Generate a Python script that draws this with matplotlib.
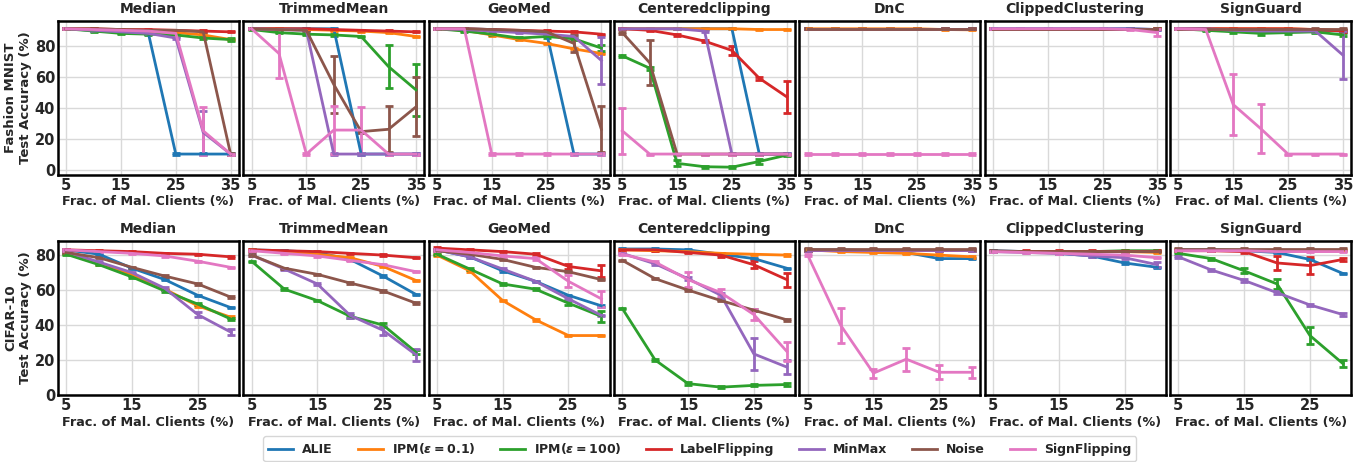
import matplotlib

matplotlib.use("Agg")
import matplotlib.pyplot as plt
from matplotlib.lines import Line2D

ATTACKS = ["ALIE", "IPM0.1", "IPM100", "LabelFlipping", "MinMax", "Noise", "SignFlipping"]
LEGEND_LABELS = ["ALIE", r"IPM($\varepsilon = 0.1$)", r"IPM($\varepsilon = 100$)",
                 "LabelFlipping", "MinMax", "Noise", "SignFlipping"]
COLORS = ["#1f77b4", "#ff7f0e", "#2ca02c", "#d62728", "#9467bd", "#8c564b", "#e377c2"]
AGGREGATORS = ["Median", "TrimmedMean", "GeoMed", "Centeredclipping", "DnC",
               "ClippedClustering", "SignGuard"]

FM_X = [5, 10, 15, 20, 25, 30, 35]
CF_X = [5, 10, 15, 20, 25, 30]
SMALL_ERR = 0.4   # tiny std shown as caps where no visible bar

# ---------------- Fashion MNIST (means) ----------------
FM_MEDIAN = {
    "ALIE": [91, 90, 89, 88, 10, 10, 10],
    "IPM0.1": [91, 90.5, 90, 89, 88.5, 87, 84],
    "IPM100": [91, 89.5, 88, 87.5, 87, 85, 84],
    "LabelFlipping": [91, 91, 90.5, 90.5, 90, 89.5, 89],
    "MinMax": [91, 90, 89, 88, 85, 24, 10],
    "Noise": [91, 91, 90.5, 90, 90, 89, 10],
    "SignFlipping": [91, 90.5, 90, 89.5, 88, 25, 10],
}
FM_TRIMMEDMEAN = {
    "ALIE": [91, 91, 91, 91, 10, 10, 10],
    "IPM0.1": [91, 91, 90.5, 90, 89.5, 88.5, 86],
    "IPM100": [90.5, 88.5, 87.5, 87, 86, 66.5, 51.5],
    "LabelFlipping": [91, 91, 91, 90.5, 90, 89.5, 89],
    "MinMax": [91, 90.5, 90, 10, 10, 10, 10],
    "Noise": [91, 90.5, 90, 55, 24.5, 26, 40.5],
    "SignFlipping": [91, 75, 10, 25.5, 25.5, 10, 10],
}
FM_GEOMED = {
    "ALIE": [91, 91, 90.5, 89.5, 88.5, 10, 10],
    "IPM0.1": [91, 90, 87, 84, 81.5, 78, 75],
    "IPM100": [91, 89.5, 87.5, 85, 86, 84.5, 78.5],
    "LabelFlipping": [91, 91, 90.5, 90, 89.5, 89, 87.5],
    "MinMax": [91, 90.5, 89.5, 88.5, 87.5, 86, 70.5],
    "Noise": [91, 91, 90.5, 90, 89, 81.5, 26],
    "SignFlipping": [91, 91, 10, 10, 10, 10, 10],
}
FM_CENTEREDCLIPPING = {
    "ALIE": [91, 91, 91, 91, 91, 10, 10],
    "IPM0.1": [91, 91, 91, 91, 91, 90.5, 90.5],
    "IPM100": [73.5, 65.5, 4, 1.8, 1.5, 5.2, 9.3],
    "LabelFlipping": [91, 90, 87, 83, 77, 59, 47],
    "MinMax": [91, 91, 91, 89.5, 10, 10, 10],
    "Noise": [88.5, 69, 10, 10, 10, 10, 10],
    "SignFlipping": [25, 10, 10, 10, 10, 10, 10],
}
FM_DNC = {
    "ALIE": [91, 91, 91, 91, 91, 91, 91],
    "IPM0.1": [91, 91, 91, 91, 91, 90.5, 90.3],
    "IPM100": [91, 91, 91, 91, 91, 91, 91],
    "LabelFlipping": [91, 91, 91, 91, 91, 91, 91],
    "MinMax": [91, 91, 91, 91, 91, 91, 91],
    "Noise": [91, 91, 91, 91, 91, 91, 91],
    "SignFlipping": [10, 10, 10, 10, 10, 10, 10],
}
FM_CLIPPEDCLUSTERING = {
    "ALIE": [91, 91, 91, 91, 91, 91, 90.5],
    "IPM0.1": [91, 91, 91, 91, 91, 91, 91],
    "IPM100": [91, 91, 91, 91, 91, 91, 91],
    "LabelFlipping": [91, 91, 91, 91, 91, 91, 91],
    "MinMax": [91, 91, 91, 91, 91, 91, 90.5],
    "Noise": [91, 91, 91, 91, 91, 91, 91],
    "SignFlipping": [91, 91, 91, 91, 91, 90.5, 88.5],
}
FM_SIGNGUARD = {
    "ALIE": [91, 91, 90.5, 90, 90, 90, 89.5],
    "IPM0.1": [91, 91, 91, 91, 91, 90.5, 90],
    "IPM100": [91, 90, 89, 88, 88.5, 89, 87],
    "LabelFlipping": [91, 91, 91, 91, 91, 90.5, 89.5],
    "MinMax": [91, 91, 90, 89.5, 89.5, 89.5, 74],
    "Noise": [91, 91, 91, 91, 91, 91, 91],
    "SignFlipping": [91, 90.5, 42, 26.5, 10, 10, 10],
}

# ---------------- Fashion MNIST (visible std) ----------------
FM_MEDIAN_ERR = {
    "MinMax": [0.4, 0.4, 0.4, 0.4, 0.6, 14, 0.3],
    "SignFlipping": [0.4, 0.4, 0.4, 0.4, 1.0, 15.5, 0.3],
    "IPM100": [0.4, 0.4, 0.4, 0.4, 0.4, 0.6, 1.2],
}
FM_TRIMMEDMEAN_ERR = {
    "IPM100": [0.4, 0.4, 0.4, 0.4, 0.4, 14, 17],
    "Noise": [0.4, 0.4, 0.4, 18.5, 0.6, 15, 19],
    "SignFlipping": [0.4, 16, 0.4, 15.5, 15, 0.3, 0.3],
}
FM_GEOMED_ERR = {
    "IPM100": [0.4, 0.4, 0.4, 0.6, 1.0, 0.6, 2.0],
    "MinMax": [0.4, 0.4, 0.4, 0.4, 0.6, 1.0, 15],
    "Noise": [0.4, 0.4, 0.4, 0.4, 0.6, 5.5, 15],
}
FM_CENTEREDCLIPPING_ERR = {
    "IPM100": [0.5, 1.0, 2.0, 0.6, 0.6, 1.5, 0.5],
    "LabelFlipping": [0.4, 0.4, 0.5, 0.6, 3.0, 1.0, 10.5],
    "Noise": [0.6, 14.5, 0.3, 0.3, 0.3, 0.3, 0.3],
    "SignFlipping": [15, 0.3, 0.3, 0.3, 0.3, 0.3, 0.3],
}
FM_DNC_ERR = {}
FM_CLIPPEDCLUSTERING_ERR = {
    "SignFlipping": [0.3, 0.3, 0.3, 0.3, 0.3, 0.5, 2.5],
}
FM_SIGNGUARD_ERR = {
    "IPM100": [0.4, 0.5, 0.6, 0.8, 0.6, 0.6, 1.0],
    "MinMax": [0.4, 0.4, 0.4, 0.4, 0.4, 0.6, 15.5],
    "SignFlipping": [0.4, 0.4, 20, 16, 0.3, 0.3, 0.3],
}

# ---------------- CIFAR-10 (means) ----------------
CF_MEDIAN = {
    "ALIE": [83, 80.5, 72.5, 66, 57, 50],
    "IPM0.1": [81, 75, 69, 60.5, 51, 44.5],
    "IPM100": [80.5, 74.5, 67.5, 59.5, 52, 43.5],
    "LabelFlipping": [83, 82.5, 82, 81, 80.5, 79],
    "MinMax": [82, 76, 70, 61, 46, 36],
    "Noise": [81.5, 78.5, 73, 68, 63.5, 56],
    "SignFlipping": [83, 82, 81, 79.5, 76.5, 73],
}
CF_TRIMMEDMEAN = {
    "ALIE": [83, 82.5, 81.5, 77.5, 68, 57.5],
    "IPM0.1": [83, 82, 80.5, 78.5, 73.5, 65.5],
    "IPM100": [76.5, 60.5, 54, 45, 40, 24.5],
    "LabelFlipping": [83, 82.5, 82, 81, 80, 78.5],
    "MinMax": [80, 72, 63.5, 45.5, 37, 23],
    "Noise": [80, 72.5, 69, 64, 59.5, 52.5],
    "SignFlipping": [82.5, 81, 79.5, 77, 74.5, 70.5],
}
CF_GEOMED = {
    "ALIE": [83, 79, 71, 65, 57, 51],
    "IPM0.1": [80, 71, 54, 43, 34, 34],
    "IPM100": [80.5, 72, 63.5, 60.5, 52.5, 45],
    "LabelFlipping": [84, 83, 82, 80.5, 73.5, 71],
    "MinMax": [83, 79, 72, 65, 55, 45.5],
    "Noise": [82.5, 80.5, 77.5, 73, 70.5, 66],
    "SignFlipping": [83, 81.5, 79.5, 78, 65, 55],
}
CF_CENTEREDCLIPPING = {
    "ALIE": [83.5, 83.5, 83, 80.5, 78, 72.5],
    "IPM0.1": [83, 82.5, 82, 81, 80.5, 80],
    "IPM100": [49.5, 20, 6.5, 4.5, 5.5, 6],
    "LabelFlipping": [83, 83, 81.5, 80, 74.5, 66],
    "MinMax": [81, 75, 66.5, 57, 23.5, 16],
    "Noise": [77, 66.5, 60, 54, 48.5, 43],
    "SignFlipping": [80.5, 76, 66, 58.5, 46, 25],
}
CF_DNC = {
    "ALIE": [83, 83, 82.5, 81.5, 78, 78],
    "IPM0.1": [83, 82, 81.5, 81, 80, 79],
    "IPM100": [83, 83, 83, 83, 83, 83],
    "LabelFlipping": [83, 83, 83, 83, 83, 83],
    "MinMax": [83, 83, 83, 83, 83, 83],
    "Noise": [83.5, 83.5, 83.5, 83.5, 83.5, 83.5],
    "SignFlipping": [80, 40, 12.5, 20.5, 13, 13],
}
CF_CLIPPEDCLUSTERING = {
    "ALIE": [82.5, 82, 81, 79.5, 75.5, 73],
    "IPM0.1": [82, 82, 82, 82, 82, 81.5],
    "IPM100": [82, 82, 82, 82, 82.5, 82.5],
    "LabelFlipping": [82.5, 82.5, 82.5, 82.5, 82.5, 82.5],
    "MinMax": [82, 81.5, 81, 79.5, 78.5, 74.5],
    "Noise": [82.5, 82, 82, 82, 82, 82],
    "SignFlipping": [82, 81.5, 81, 80.5, 80, 78.5],
}
CF_SIGNGUARD = {
    "ALIE": [83, 83, 82.5, 81.5, 77.5, 69.5],
    "IPM0.1": [83, 83, 83, 83, 83, 83],
    "IPM100": [81, 78, 71, 63.5, 34, 18],
    "LabelFlipping": [82.5, 82.5, 82, 75.5, 74, 77.5],
    "MinMax": [79, 71.5, 65.5, 58.5, 51.5, 46],
    "Noise": [83.5, 83.5, 83.5, 83.5, 83.5, 83.5],
    "SignFlipping": [82.5, 82.5, 82.5, 82, 82, 82],
}

# ---------------- CIFAR-10 (visible std) ----------------
CF_MEDIAN_ERR = {
    "MinMax": [0.4, 0.5, 0.6, 0.8, 1.5, 1.8],
}
CF_TRIMMEDMEAN_ERR = {
    "MinMax": [0.4, 0.5, 0.8, 1.5, 2.5, 3.5],
    "IPM100": [0.4, 0.5, 0.5, 0.8, 1.2, 1.2],
}
CF_GEOMED_ERR = {
    "LabelFlipping": [0.4, 0.4, 0.4, 0.6, 1.5, 3.5],
    "SignFlipping": [0.4, 0.4, 0.6, 0.8, 3.5, 4.5],
    "IPM100": [0.4, 0.4, 0.5, 0.6, 1.2, 3.0],
}
CF_CENTEREDCLIPPING_ERR = {
    "LabelFlipping": [0.4, 0.4, 0.5, 1.0, 2.0, 4.0],
    "MinMax": [0.4, 0.6, 1.0, 1.5, 9.0, 4.0],
    "SignFlipping": [0.5, 0.8, 4.5, 2.0, 3.0, 5.5],
    "IPM100": [0.5, 0.6, 0.8, 0.4, 0.6, 0.8],
}
CF_DNC_ERR = {
    "SignFlipping": [0.6, 10, 2.5, 6.5, 4.0, 3.0],
}
CF_CLIPPEDCLUSTERING_ERR = {
    "MinMax": [0.3, 0.3, 0.4, 0.6, 0.8, 1.5],
}
CF_SIGNGUARD_ERR = {
    "IPM100": [0.5, 0.6, 1.5, 3.0, 5.0, 2.0],
    "LabelFlipping": [0.4, 0.4, 0.6, 4.0, 5.0, 1.0],
    "MinMax": [0.6, 0.6, 0.6, 1.0, 0.8, 0.8],
}

ROWS = [
    ("Fashion MNIST\nTest Accuracy (%)", FM_X, [5, 15, 25, 35], (-3.5, 96),
     [FM_MEDIAN, FM_TRIMMEDMEAN, FM_GEOMED, FM_CENTEREDCLIPPING, FM_DNC,
      FM_CLIPPEDCLUSTERING, FM_SIGNGUARD],
     [FM_MEDIAN_ERR, FM_TRIMMEDMEAN_ERR, FM_GEOMED_ERR, FM_CENTEREDCLIPPING_ERR, FM_DNC_ERR,
      FM_CLIPPEDCLUSTERING_ERR, FM_SIGNGUARD_ERR]),
    ("CIFAR-10\nTest Accuracy (%)", CF_X, [5, 15, 25], (0, 88),
     [CF_MEDIAN, CF_TRIMMEDMEAN, CF_GEOMED, CF_CENTEREDCLIPPING, CF_DNC,
      CF_CLIPPEDCLUSTERING, CF_SIGNGUARD],
     [CF_MEDIAN_ERR, CF_TRIMMEDMEAN_ERR, CF_GEOMED_ERR, CF_CENTEREDCLIPPING_ERR, CF_DNC_ERR,
      CF_CLIPPEDCLUSTERING_ERR, CF_SIGNGUARD_ERR]),
]

plt.rcParams.update({
    "font.family": "DejaVu Sans",
    "font.weight": "bold",
    "axes.labelweight": "bold",
    "axes.titleweight": "bold",
    "text.color": "#262626",
    "axes.labelcolor": "#262626",
    "xtick.color": "#262626",
    "ytick.color": "#262626",
})

fig, axes = plt.subplots(2, 7, figsize=(13.64, 4.62), dpi=100)
fig.subplots_adjust(left=0.0425, right=0.9905, top=0.9545, bottom=0.145,
                    wspace=0.025, hspace=0.43)

for r, (ylabel, xs, xticks, ylim, panels, errs) in enumerate(ROWS):
    for c, (name, means, err) in enumerate(zip(AGGREGATORS, panels, errs)):
        ax = axes[r, c]
        for atk, col in zip(ATTACKS, COLORS):
            e = err.get(atk, [SMALL_ERR] * len(xs))
            ax.errorbar(xs, means[atk], yerr=e, color=col, lw=2, capsize=3,
                        capthick=2, elinewidth=2)
        ax.set_title(name, fontsize=10, fontweight="bold", color="#262626")
        ax.set_xticks(xticks)
        ax.set_xlim(xs[0] - 0.05 * (xs[-1] - xs[0]), xs[-1] + 0.05 * (xs[-1] - xs[0]))
        ax.set_ylim(*ylim)
        ax.set_yticks([0, 20, 40, 60, 80])
        ax.grid(True, color="#d9d9d9", lw=1)
        ax.set_axisbelow(True)
        ax.tick_params(labelsize=10.5, length=0, pad=2)
        for s in ax.spines.values():
            s.set_color("black")
            s.set_linewidth(1.8)
        ax.set_xlabel("Frac. of Mal. Clients (%)", fontsize=9.2, labelpad=2)
        if c == 0:
            ax.set_ylabel(ylabel, fontsize=9.5, labelpad=2)
        else:
            ax.tick_params(labelleft=False)

handles = [Line2D([], [], color=col, lw=2) for col in COLORS]
fig.legend(handles, LEGEND_LABELS, loc="lower center", ncol=7, bbox_to_anchor=(0.513, -0.012),
           fontsize=9, frameon=True, handlelength=2.0, handletextpad=0.7, columnspacing=2.0,
           edgecolor="#cccccc", fancybox=True)

fig.savefig("out.png", dpi=100)
